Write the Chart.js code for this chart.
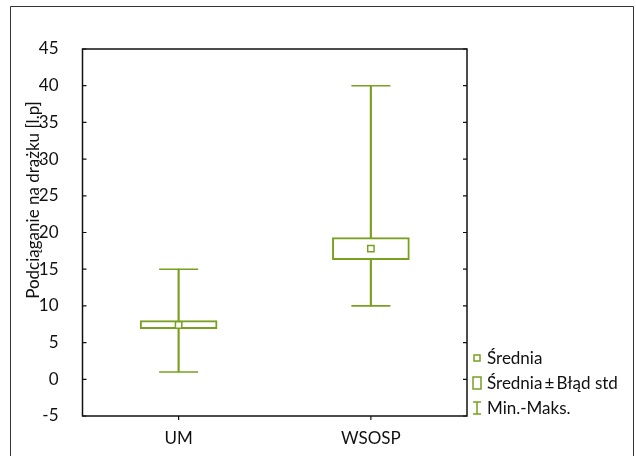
<!DOCTYPE html>
<html>
<head>
<meta charset="utf-8">
<script src="https://cdn.jsdelivr.net/npm/chart.js@4/dist/chart.umd.min.js"></script>
<style>
  html, body { margin: 0; padding: 0; background: #fff; }
  #wrap { width: 636px; height: 456px; }
</style>
</head>
<body>
<div id="wrap"><canvas id="chart"></canvas></div>
<script>
const groups   = ['UM', 'WSOSP'];
const means    = [7.4, 17.8];
const seLow    = [6.9, 16.3];
const seHigh   = [8.0, 19.3];
const minVals  = [1, 10];
const maxVals  = [15, 40];
const yTicks   = [-5, 0, 5, 10, 15, 20, 25, 30, 35, 40, 45];
const legendLabels = ['Średnia', 'Średnia\u2009±\u2009Błąd std', 'Min.-Maks.'];
const yTitle = 'Podciąganie na drążku [l.p]';

const GREEN = '#7aa022';
const FONT = "Lato, 'DejaVu Sans Condensed', sans-serif";

// frame, inward ticks, axis title and legend
const decorations = {
  id: 'decorations',
  beforeDraw(chart) {
    const ctx = chart.ctx;
    ctx.save();
    ctx.strokeStyle = '#333';
    ctx.lineWidth = 1;
    ctx.beginPath();
    ctx.moveTo(10.5, 456);
    ctx.lineTo(10.5, 6.5);
    ctx.lineTo(633.5, 6.5);
    ctx.lineTo(633.5, 456);
    ctx.stroke();
    ctx.restore();
  },
  afterDraw(chart) {
    const { ctx, chartArea: a, scales: { x, y } } = chart;
    ctx.save();
    ctx.strokeStyle = '#111';
    ctx.lineWidth = 1.5;
    ctx.strokeRect(a.left, a.top, a.right - a.left, a.bottom - a.top);

    ctx.lineWidth = 1.2;
    ctx.beginPath();
    yTicks.forEach(v => {
      const py = y.getPixelForValue(v);
      ctx.moveTo(a.left, py); ctx.lineTo(a.left + 4, py);
      ctx.moveTo(a.right, py); ctx.lineTo(a.right - 4, py);
    });
    groups.forEach((_, i) => {
      const px = x.getPixelForValue(i);
      ctx.moveTo(px, a.bottom); ctx.lineTo(px, a.bottom + 4);
    });
    ctx.stroke();

    // y title
    ctx.fillStyle = '#111';
    ctx.font = '17px ' + FONT;
    ctx.textAlign = 'center';
    ctx.textBaseline = 'middle';
    ctx.translate(34, 200);
    ctx.rotate(-Math.PI / 2);
    ctx.fillText(yTitle, 0, 0);
    ctx.setTransform(1, 0, 0, 1, 0, 0);

    // legend
    const lx = 477, ly = [358, 383, 408];
    ctx.strokeStyle = GREEN;
    ctx.lineWidth = 1.5;
    ctx.strokeRect(lx - 3, ly[0] - 3, 6, 6);
    ctx.strokeRect(lx - 4, ly[1] - 6, 8, 12);
    ctx.beginPath();
    ctx.moveTo(lx - 4, ly[2] - 6); ctx.lineTo(lx + 4, ly[2] - 6);
    ctx.moveTo(lx, ly[2] - 6); ctx.lineTo(lx, ly[2] + 6);
    ctx.moveTo(lx - 4, ly[2] + 6); ctx.lineTo(lx + 4, ly[2] + 6);
    ctx.stroke();
    ctx.fillStyle = '#111';
    ctx.textAlign = 'left';
    legendLabels.forEach((t, i) => ctx.fillText(t, 487, ly[i] + 1));
    ctx.restore();
  }
};

new Chart(document.getElementById('chart'), {
  type: 'bar',
  data: {
    labels: groups,
    datasets: [
      {
        type: 'line', data: means, showLine: false,
        pointStyle: 'rect', pointRadius: 4.5,
        pointBackgroundColor: '#fff', pointBorderColor: GREEN, pointBorderWidth: 1.5,
      },
      {
        type: 'line', data: maxVals, showLine: false,
        pointStyle: 'line', pointRadius: 19.5,
        pointBorderColor: GREEN, pointBorderWidth: 1.6,
      },
      {
        type: 'line', data: minVals, showLine: false,
        pointStyle: 'line', pointRadius: 19.5,
        pointBorderColor: GREEN, pointBorderWidth: 1.6,
      },
      {
        data: groups.map((_, i) => [seLow[i], seHigh[i]]),
        barThickness: 77, grouped: false,
        backgroundColor: '#fff', borderColor: GREEN, borderWidth: 2, borderSkipped: false,
      },
      {
        data: groups.map((_, i) => [minVals[i], maxVals[i]]),
        barThickness: 1.5, grouped: false,
        backgroundColor: GREEN, borderWidth: 0,
      },
    ],
  },
  options: {
    responsive: true,
    maintainAspectRatio: false,
    animation: false,
    layout: { padding: { left: 10, top: 49, right: 169, bottom: 0 } },
    plugins: { legend: { display: false }, tooltip: { enabled: false } },
    scales: {
      x: {
        type: 'category', offset: true,
        grid: { display: false }, border: { display: false },
        ticks: { color: '#111', font: { family: FONT, size: 17 }, padding: 4 },
        afterFit: s => { s.height = 40; },
      },
      y: {
        min: -5, max: 45,
        grid: { display: false }, border: { display: false },
        afterBuildTicks: s => { s.ticks = yTicks.map(v => ({ value: v })); },
        ticks: { color: '#111', font: { family: FONT, size: 17 }, padding: 16 },
        afterFit: s => { s.width = 72.5; },
      },
    },
  },
  plugins: [decorations],
});
</script>
</body>
</html>
